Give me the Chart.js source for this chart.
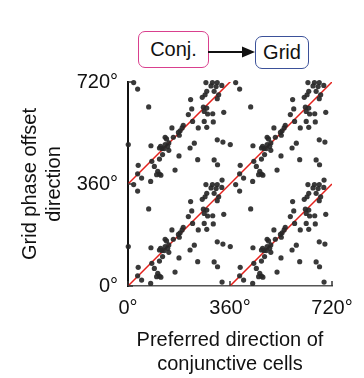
<!DOCTYPE html>
<html lang="en">
<head>
    <meta charset="UTF-8">
    <title>Conjunctive vs grid phase offset</title>
    <script src="https://cdnjs.cloudflare.com/ajax/libs/Chart.js/4.4.1/chart.umd.min.js"></script>
    <style>
        body { margin: 0; background: #fff; }
        #wrap { position: relative; width: 364px; height: 378px; font-family: "Liberation Sans", Arial, sans-serif; }
        #plot { position: absolute; left: 0; top: 0; }
        .box { position: absolute; box-sizing: border-box; border-radius: 7px; border: 1.5px solid; font-size: 20px;
               display: flex; align-items: center; justify-content: center; color: #111; background: #fff; }
        #conj { left: 138px; top: 31px; width: 71px; height: 37px; border-color: #d9408e; }
        #grid { left: 255px; top: 36px; width: 54px; height: 33px; border-color: #3b5199; }
        #arrow { position: absolute; left: 208px; top: 45px; }
    </style>
</head>
<body>
<div id="wrap">
    <canvas id="plot" width="364" height="378"></canvas>
    <div class="box" id="conj">Conj.</div>
    <svg id="arrow" width="48" height="14">
        <line x1="0" y1="7" x2="36" y2="7" stroke="#111" stroke-width="2.2"/>
        <polygon points="34,1.5 47,7 34,12.5" fill="#111"/>
    </svg>
    <div class="box" id="grid">Grid</div>
</div>

<script>
    // preferred direction of each conjunctive cell (deg) and the matching grid phase offset direction (deg)
    var prefDir = [20, 80, 34, 73, 221, 275, 298, 315, 293, 311,
                   331, 278, 304, 272, 262, 320, 315, 225, 266, 278,
                   269, 281, 338, 213, 299, 269, 228, 301, 248, 278,
                   155, 195, 191, 184, 178, 315, 335, 131, 136, 160,
                   181, 144, 140, 115, 120, 111, 128, 144, 81, 234,
                   219, 122, 111, 180, 246, 304, 316, 1, 36, 84,
                   93, 105, 111, 101, 116, 166, 34, 48, 332, 131];
    var offsetDir = [358, 9, 335, 272, 298, 358, 358, 358, 346, 344,
                     348, 327, 327, 315, 306, 315, 301, 265, 271, 268,
                     256, 247, 253, 245, 248, 221, 221, 219, 198, 200,
                     198, 207, 198, 188, 182, 156, 148, 165, 159, 165,
                     172, 145, 133, 133, 125, 127, 125, 119, 135, 144,
                     127, 104, 88, 99, 86, 85, 68, 139, 66, 80,
                     62, 45, 35, 33, 31, 49, 36, 21, 14, 139];
    // the plot repeats one period in each direction
    var periods = [[0, 0], [360, 0], [0, 360], [360, 360]];
    // red identity lines y = x + k
    var lineShifts = [360, 0, -360];
    var xTicks = [0, 360, 720];
    var yTicks = [0, 360, 720];

    var points = [];
    periods.forEach(function (p) {
        prefDir.forEach(function (x, i) {
            points.push({ x: x + p[0], y: offsetDir[i] + p[1] });
        });
    });

    var datasets = [{
        type: 'scatter',
        data: points,
        backgroundColor: 'rgba(40,40,40,0.92)',
        borderWidth: 0,
        pointRadius: 2.6,
        clip: false
    }];
    lineShifts.forEach(function (k) {
        datasets.push({
            type: 'line',
            data: [{ x: 0, y: k }, { x: 720, y: 720 + k }],
            borderColor: '#e3211c',
            borderWidth: 1.5,
            pointRadius: 0
        });
    });

    var font = { family: '"Liberation Sans", Arial, sans-serif', size: 20 };

    // small ticks pointing into the plot
    var innerTicks = {
        id: 'innerTicks',
        afterDatasetsDraw: function (chart) {
            var c = chart.ctx, a = chart.chartArea;
            var xs = chart.scales.x, ys = chart.scales.y;
            c.save();
            c.strokeStyle = '#333';
            c.lineWidth = 1.5;
            xTicks.forEach(function (v) {
                var px = xs.getPixelForValue(v);
                c.beginPath(); c.moveTo(px, a.bottom); c.lineTo(px, a.bottom - 5); c.stroke();
            });
            yTicks.forEach(function (v) {
                var py = ys.getPixelForValue(v);
                c.beginPath(); c.moveTo(a.left, py); c.lineTo(a.left + 5, py); c.stroke();
            });
            c.restore();
        }
    };

    new Chart(document.getElementById('plot'), {
        data: { datasets: datasets },
        plugins: [innerTicks],
        options: {
            responsive: false,
            animation: false,
            layout: { padding: { left: 0, top: 82, right: 32, bottom: 0 } },
            plugins: { legend: { display: false }, tooltip: { enabled: false } },
            scales: {
                x: {
                    type: 'linear',
                    min: 0, max: 720,
                    afterFit: function (s) { s.height = 92; },
                    afterBuildTicks: function (s) { s.ticks = xTicks.map(function (v) { return { value: v }; }); },
                    grid: { display: false, drawTicks: false },
                    border: { display: true, color: '#555', width: 1.5 },
                    ticks: { color: '#111', font: font, padding: 10, maxRotation: 0,
                             callback: function (v) { return v + '°'; } },
                    title: { display: true, text: ['Preferred direction of', 'conjunctive cells'],
                             color: '#111', font: { family: font.family, size: 20, lineHeight: 1.2 },
                             padding: { top: 0, bottom: 2 } }
                },
                y: {
                    type: 'linear',
                    min: 0, max: 720,
                    afterFit: function (s) { s.width = 128; },
                    afterBuildTicks: function (s) { s.ticks = yTicks.map(function (v) { return { value: v }; }); },
                    grid: { display: false, drawTicks: false },
                    border: { display: true, color: '#111', width: 2 },
                    ticks: { color: '#111', font: font, padding: 10,
                             callback: function (v) { return v + '°'; } },
                    title: { display: true, text: ['Grid phase offset', 'direction'],
                             color: '#111', font: { family: font.family, size: 20, lineHeight: 1.17 },
                             padding: { top: 19, bottom: 0 } }
                }
            }
        }
    });
</script>
</body>
</html>
